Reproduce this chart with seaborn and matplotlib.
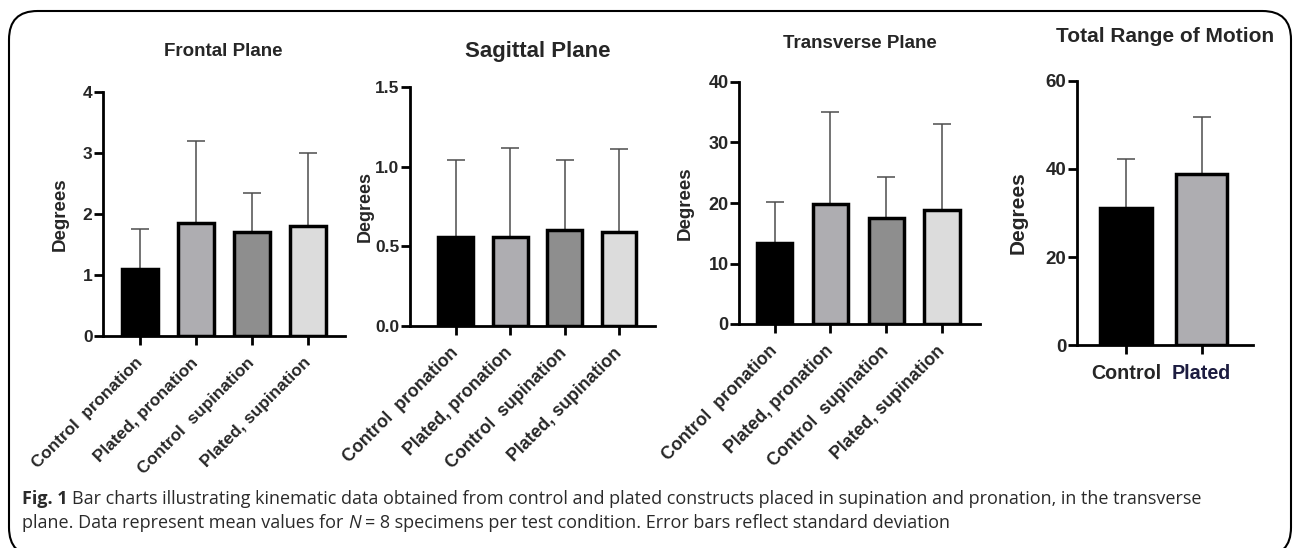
import matplotlib
matplotlib.use("Agg")
import matplotlib.pyplot as plt
from matplotlib.patches import FancyBboxPatch
import numpy as np
import seaborn as sns

# ---------------- data ----------------
conditions = ["Control  pronation", "Plated, pronation",
              "Control  supination", "Plated, supination"]
groups = ["Control", "Plated"]

frontal_means = [1.10, 1.85, 1.71, 1.80]
frontal_sd = [0.66, 1.34, 0.63, 1.20]

sagittal_means = [0.56, 0.56, 0.60, 0.59]
sagittal_sd = [0.48, 0.56, 0.44, 0.52]

transverse_means = [13.4, 19.8, 17.6, 18.8]
transverse_sd = [6.8, 15.2, 6.7, 14.3]

total_means = [31.2, 38.9]
total_sd = [11.1, 12.9]

frontal_ticks = [0, 1, 2, 3, 4]
frontal_ticklabels = ["0", "1", "2", "3", "4"]
sagittal_ticks = [0, 0.5, 1.0, 1.5]
sagittal_ticklabels = ["0.0", "0.5", "1.0", "1.5"]
transverse_ticks = [0, 10, 20, 30, 40]
transverse_ticklabels = ["0", "10", "20", "30", "40"]
total_ticks = [0, 20, 40, 60]
total_ticklabels = ["0", "20", "40", "60"]

titles = ["Frontal Plane", "Sagittal Plane", "Transverse Plane", "Total Range of Motion"]
ylabel = "Degrees"

caption_bold = "Fig. 1"
caption_line1 = ("Bar charts illustrating kinematic data obtained from control and plated "
                 "constructs placed in supination and pronation, in the transverse")
caption_line2a = "plane. Data represent mean values for"
caption_line2n = "N"
caption_line2b = "= 8 specimens per test condition. Error bars reflect standard deviation"

four_colors = ["#000000", "#aeadb1", "#8e8e8e", "#dcdcdc"]
two_colors = ["#000000", "#aeadb1"]

# ---------------- figure ----------------
W, H = 1298, 548
sns.set_theme(style="ticks")
plt.rcParams["font.family"] = ["Liberation Sans", "DejaVu Sans"]
fig = plt.figure(figsize=(W / 100, H / 100), dpi=100)
fig.patch.set_facecolor("white")

# frame
frame = FancyBboxPatch((9 / W, 1 - 556 / H), (1291 - 9) / W, (556 - 11) / H,
                       boxstyle="round,pad=0,rounding_size=0.022",
                       transform=fig.transFigure, fill=False, edgecolor="black",
                       linewidth=1.5, mutation_aspect=W / H, clip_on=False)
fig.add_artist(frame)

panels = [
    dict(cats=conditions, means=frontal_means, sd=frontal_sd, colors=four_colors,
         ticks=frontal_ticks, tl=frontal_ticklabels, ylim=(0, 4), tsize=12.5,
         box=(103, 345, 92, 336), xlim=(-0.66, 3.66), width=0.64, xl_size=12.3,
         title_xy=(223, 52), title_size=13.5, ylab_x=60, ylab_size=13.5, rot=True),
    dict(cats=conditions, means=sagittal_means, sd=sagittal_sd, colors=four_colors,
         ticks=sagittal_ticks, tl=sagittal_ticklabels, ylim=(0, 1.5), tsize=12.5,
         box=(410, 655, 87, 326), xlim=(-0.84, 3.66), width=0.64, xl_size=12.8,
         title_xy=(538, 52), title_size=16, ylab_x=365, ylab_size=13, rot=True),
    dict(cats=conditions, means=transverse_means, sd=transverse_sd, colors=four_colors,
         ticks=transverse_ticks, tl=transverse_ticklabels, ylim=(0, 40), tsize=13,
         box=(739, 980, 82, 324), xlim=(-0.64, 3.68), width=0.63, xl_size=12.8,
         title_xy=(860, 43), title_size=13.5, ylab_x=685, ylab_size=13.5, rot=True),
    dict(cats=groups, means=total_means, sd=total_sd, colors=two_colors,
         ticks=total_ticks, tl=total_ticklabels, ylim=(0, 60), tsize=13.5,
         box=(1077, 1253, 81, 345), xlim=(-0.645, 1.68), width=0.68, xl_size=14.2,
         title_xy=(1165, 37), title_size=15, ylab_x=1018, ylab_size=15, rot=False),
]

for i, p in enumerate(panels):
    l, r, t, b = p["box"]
    ax = fig.add_axes([l / W, 1 - b / H, (r - l) / W, (b - t) / H])
    ax.set_facecolor("none")
    sns.barplot(x=p["cats"], y=p["means"], hue=p["cats"], palette=p["colors"],
                legend=False, ax=ax, width=p["width"], saturation=1,
                edgecolor="black", linewidth=2.5, errorbar=None, zorder=2)
    n = len(p["means"])
    ax.errorbar(np.arange(n), p["means"], yerr=[np.zeros(n), p["sd"]], fmt="none",
                ecolor="#4d4d4d", elinewidth=1.1, capsize=6.5, capthick=1.1, zorder=1)
    ax.set_xlim(*p["xlim"])
    ax.set_ylim(*p["ylim"])
    ax.set_yticks(p["ticks"])
    ax.set_yticklabels(p["tl"], fontsize=p["tsize"], fontweight="bold")
    for sp in ["top", "right"]:
        ax.spines[sp].set_visible(False)
    for sp in ["left", "bottom"]:
        ax.spines[sp].set_linewidth(2.0)
        ax.spines[sp].set_color("black")
        ax.spines[sp].set_capstyle("projecting")
    ax.tick_params(axis="both", direction="out", length=6.5, width=2.0, color="black")
    ax.tick_params(axis="y", pad=1)
    ax.set_xticks(np.arange(n))
    if p["rot"]:
        ax.set_xticklabels(p["cats"], rotation=45, ha="right", va="center",
                           rotation_mode="anchor", fontsize=p["xl_size"], fontweight="bold")
        ax.tick_params(axis="x", pad=11)
    else:
        ax.set_xticklabels(p["cats"], fontsize=p["xl_size"], fontweight="bold")
        ax.tick_params(axis="x", pad=7)
        ax.get_xticklabels()[1].set_color("#1c1c40")
    ax.set_xlabel("")
    ax.set_ylabel(ylabel, fontsize=p["ylab_size"], fontweight="bold", va="center")
    ax.yaxis.set_label_coords((p["ylab_x"] - l) / (r - l), 0.5)
    tx, ty = p["title_xy"]
    ax.set_title(titles[i], fontsize=p["title_size"], fontweight="bold",
                 x=(tx - l) / (r - l), y=(b - ty) / (b - t), va="center", pad=0)

# ---------------- caption ----------------
cap_font = ["Open Sans", "DejaVu Sans"]
renderer = fig.canvas.get_renderer()


def text_width(s, size, **kw):
    tt = fig.text(0, 0, s, fontsize=size, family=cap_font, **kw)
    w = tt.get_window_extent(renderer).width
    tt.remove()
    return w


def line_width(pieces, size):
    sp = text_width("a a", size) - text_width("aa", size)
    return sum(text_width(s, size, **kw) for s, kw in pieces) + sp * (len(pieces) - 1)


line1 = [(caption_bold, dict(fontweight="bold")), (caption_line1, {})]
line2 = [(caption_line2a, {}), (caption_line2n, dict(style="italic")), (caption_line2b, {})]

size = 12.0
for _ in range(2):
    size = size * (1205 - 22) / line_width(line1, size)

sp_w = text_width("a a", size) - text_width("aa", size)


def put_line(pieces, x_px, y_px):
    x = x_px
    for s, kw in pieces:
        tt = fig.text(x / W, 1 - y_px / H, s, fontsize=size, family=cap_font,
                      va="center", ha="left", color="#2a2a2a", **kw)
        x += tt.get_window_extent(renderer).width + sp_w


put_line(line1, 22, 499)
put_line(line2, 22, 523)

fig.savefig("out.png", dpi=100, facecolor="white")
